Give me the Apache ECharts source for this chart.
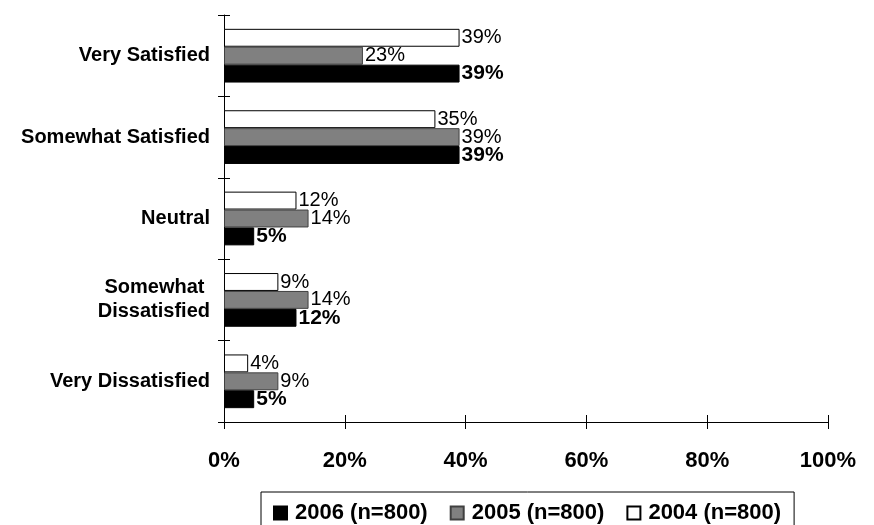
<!DOCTYPE html>
<html>
<head>
<meta charset="utf-8">
<script src="https://cdn.jsdelivr.net/npm/echarts@6/dist/echarts.min.js"></script>
<style>
html,body{margin:0;padding:0;background:#fff;}
#chart{width:874px;height:525px;}
</style>
</head>
<body>
<div id="chart"></div>
<script>
var categories = ['Very Satisfied', 'Somewhat Satisfied', 'Neutral', 'Somewhat \nDissatisfied', 'Very Dissatisfied'];
var seriesNames = ['2006 (n=800)', '2005 (n=800)', '2004 (n=800)'];
var values2006 = [39, 39, 5, 12, 5];
var values2005 = [23, 39, 14, 14, 9];
var values2004 = [39, 35, 12, 9, 4];
var xTicks = [0, 20, 40, 60, 80, 100];

var font = 'Liberation Sans, Arial, sans-serif';
var chart = echarts.init(document.getElementById('chart'));

function barSeries(name, data, fill, border, bold) {
  return {
    name: name,
    type: 'bar',
    data: data,
    barGap: '0%',
    barCategoryGap: '34%',
    itemStyle: { color: fill, borderColor: border, borderWidth: 1 },
    label: {
      show: true,
      position: 'right',
      distance: 2,
      formatter: '{c}%',
      color: '#000',
      fontFamily: font,
      fontSize: bold ? 21 : 20,
      fontWeight: bold ? 'bold' : 'normal'
    }
  };
}

chart.setOption({
  animation: false,
  backgroundColor: '#fff',
  grid: { left: 224, right: 46, top: 15, bottom: 103, containLabel: false },
  legend: {
    data: seriesNames,
    left: 261,
    top: 492,
    orient: 'horizontal',
    itemWidth: 13,
    itemHeight: 13,
    itemGap: 22,
    padding: [10, 13, 10, 12],
    borderColor: '#000',
    borderWidth: 1,
    icon: 'rect',
    textStyle: { fontFamily: font, fontSize: 22, fontWeight: 'bold', color: '#000', padding: [0, 0, 0, 3] }
  },
  xAxis: [{
    type: 'value',
    min: xTicks[0],
    max: xTicks[xTicks.length - 1],
    interval: 20,
    position: 'bottom',
    axisLine: { show: true, lineStyle: { color: '#000', width: 1 } },
    axisTick: { show: true, length: 7, lineStyle: { color: '#000' } },
    splitLine: { show: false },
    axisLabel: { formatter: '{value}%', fontFamily: font, fontSize: 22, fontWeight: 'bold', color: '#000', margin: 28 }
  }, {
    type: 'value',
    min: xTicks[0],
    max: xTicks[xTicks.length - 1],
    interval: 20,
    position: 'bottom',
    axisLine: { show: false },
    axisTick: { show: true, inside: true, length: 7, lineStyle: { color: '#000' } },
    splitLine: { show: false },
    axisLabel: { show: false }
  }],
  yAxis: [{
    type: 'category',
    data: categories,
    inverse: true,
    position: 'left',
    axisLine: { show: true, lineStyle: { color: '#000', width: 1 } },
    axisTick: { show: true, length: 6, lineStyle: { color: '#000' } },
    axisLabel: { fontFamily: font, fontSize: 20, fontWeight: 'bold', color: '#000', margin: 14, lineHeight: 24, align: 'right' }
  }, {
    type: 'category',
    data: categories,
    inverse: true,
    position: 'left',
    axisLine: { show: false },
    axisTick: { show: true, inside: true, length: 6, lineStyle: { color: '#000' } },
    axisLabel: { show: false }
  }],
  series: [
    barSeries(seriesNames[2], values2004, '#ffffff', '#000000', false),
    barSeries(seriesNames[1], values2005, '#808080', '#404040', false),
    barSeries(seriesNames[0], values2006, '#000000', '#000000', true)
  ]
});
</script>
</body>
</html>
